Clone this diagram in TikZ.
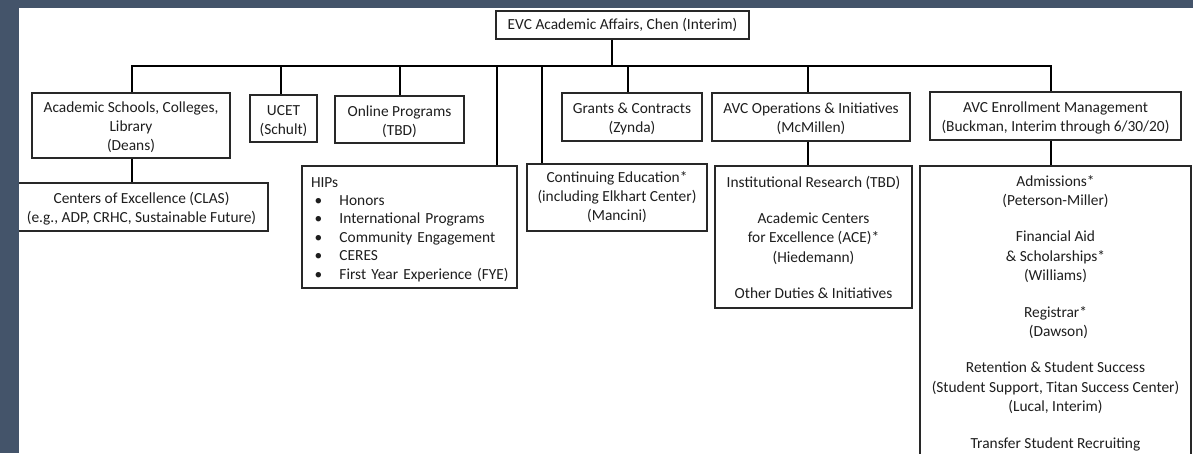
\documentclass[tikz,border=0pt]{standalone}
\usepackage{fontspec}
\setmainfont{Carlito}
\definecolor{framecol}{RGB}{68,84,106}
\definecolor{boxline}{RGB}{40,40,40}
\definecolor{txtcol}{RGB}{30,30,30}
\tikzset{
  box/.style={draw=boxline, line width=1.3pt, fill=white, inner sep=0pt,
    align=center, text=txtcol, font=\fontsize{15.4}{19}\selectfont},
  conn/.style={draw=black, line width=2pt},
}
\newcommand{\hipitem}[1]{\hspace*{10.5pt}\makebox[25pt][l]{\textbullet}#1}
\newcommand{\topstrut}{\rule{0pt}{17pt}}
\newcommand{\botstrut}{\rule[-5pt]{0pt}{5pt}}
\begin{document}
\begin{tikzpicture}[x=1pt,y=-1pt]
\useasboundingbox (0,0) rectangle (1193,453);
\clip (0,0) rectangle (1193,453);
\fill[white] (0,0) rectangle (1193,453);

% drop points on the bus
\coordinate (dEvc) at (612,66);
\coordinate (dAcad) at (132,66);
\coordinate (dUcet) at (281,66);
\coordinate (dOnline) at (400,66);
\coordinate (dHips) at (497,66);
\coordinate (dCont) at (542,66);
\coordinate (dGrants) at (628,66);
\coordinate (dOps) at (808,66);
\coordinate (dEnroll) at (1051,66);

% boxes
\node[box, minimum width=253pt, minimum height=28pt] (evc) at (622.5,25)
  {EVC Academic Affairs, Chen (Interim)};
\node[box, minimum width=198pt, minimum height=65pt] (acad) at (131,125.5)
  {\topstrut Academic Schools, Colleges,\\Library\\(Deans)\botstrut};
\node[box, minimum width=67pt, minimum height=47pt] (ucet) at (283.5,118.5)
  {\topstrut UCET\\(Schult)\botstrut};
\node[box, minimum width=129pt, minimum height=47pt] (online) at (399.5,119.5)
  {\topstrut Online Programs\\(TBD)\botstrut};
\node[box, minimum width=140pt, minimum height=48pt] (grants) at (632,117)
  {\topstrut Grants \& Contracts\\(Zynda)\botstrut};
\node[box, minimum width=198pt, minimum height=48pt] (ops) at (811,117)
  {\topstrut AVC Operations \& Initiatives\\(McMillen)\botstrut};
\node[box, minimum width=251pt, minimum height=48pt] (enroll) at (1055.5,116)
  {\topstrut AVC Enrollment Management\\(Buckman, Interim through 6/30/20)\botstrut};
\node[box, minimum width=253pt, minimum height=48pt] (centers) at (141.5,207)
  {\topstrut Centers of Excellence (CLAS)\\(e.g., ADP, CRHC, Sustainable Future)\botstrut};
\node[box, minimum height=122pt, text width=211pt, inner xsep=2pt, align=left,
      font=\fontsize{15.4}{18.4}\selectfont] (hips) at (409.5,227)
  {\topstrut\hspace*{7pt}HIPs\\
   \hipitem{Honors}\\
   \hipitem{International Programs}\\
   \hipitem{Community Engagement}\\
   \hipitem{CERES}\\
   \hipitem{First Year Experience (FYE)}\botstrut};
\node[box, minimum width=180pt, minimum height=67pt] (cont) at (617,197.5)
  {Continuing Education*\\(including Elkhart Center)\\(Mancini)};
\node[box, minimum width=197pt, minimum height=142pt,
      font=\fontsize{15.4}{19.5}\selectfont] (inst) at (813.5,237)
  {Institutional Research (TBD)\\[16.5pt]
   Academic Centers\\for Excellence (ACE)*\\(Hiedemann)\\[16.5pt]
   Other Duties \& Initiatives};
\node[box, minimum width=271pt, minimum height=294pt,
      font=\fontsize{15.4}{19.5}\selectfont] (em) at (1055.5,313)
  {Admissions*\\(Peterson-Miller)\\[16.75pt]
   Financial Aid\\\& Scholarships*\\(Williams)\\[16.75pt]
   Registrar*\\\hspace*{6pt}(Dawson)\\[16.75pt]
   Retention \& Student Success\\
   (Student Support, Titan Success Center)\\
   (Lucal, Interim)\\[16.75pt]
   Transfer Student Recruiting};

% connectors
\draw[conn] (evc.south -| dEvc) -- (dEvc);
\draw[conn] (dAcad |- acad.north) -- (dAcad) -- (dEnroll) -- (dEnroll |- enroll.north);
\draw[conn] (dUcet) -- (dUcet |- ucet.north);
\draw[conn] (dOnline) -- (dOnline |- online.north);
\draw[conn] (dHips) -- (dHips |- hips.north);
\draw[conn] (dCont) -- (dCont |- cont.north);
\draw[conn] (dGrants) -- (dGrants |- grants.north);
\draw[conn] (dOps) -- (dOps |- ops.north);
\draw[conn] (dAcad |- acad.south) -- (dAcad |- centers.north);
\draw[conn] (dOps |- ops.south) -- (dOps |- inst.north);
\draw[conn] (dEnroll |- enroll.south) -- (dEnroll |- em.north);

% frame
\fill[framecol] (0,0) rectangle (19,453);
\fill[framecol] (0,0) rectangle (1193,8);
\end{tikzpicture}
\end{document}
